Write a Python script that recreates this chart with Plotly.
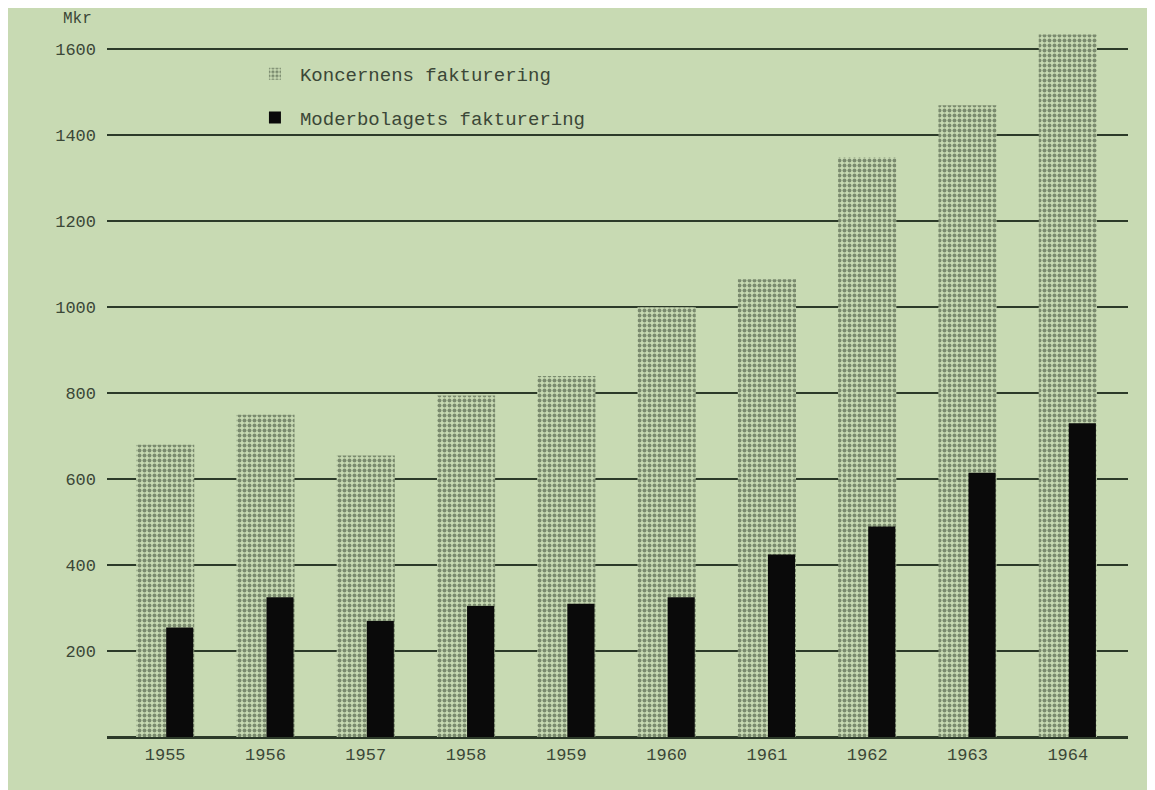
import plotly.graph_objects as go

years = [1955, 1956, 1957, 1958, 1959, 1960, 1961, 1962, 1963, 1964]
koncern = [680, 750, 655, 795, 840, 1000, 1065, 1350, 1470, 1635]
moderbolag = [255, 325, 270, 305, 310, 325, 425, 490, 615, 730]
y_ticks = [200, 400, 600, 800, 1000, 1200, 1400, 1600]

BG = "#c8dab3"
INK = "#2c3a29"
TXT = "#3b4737"
FONT = "Liberation Mono, Courier New, monospace"

fig = go.Figure()
fig.add_trace(go.Bar(
    x=years, y=koncern, name="Koncernens fakturering",
    width=0.58, legendgroup="a",
    marker=dict(color=BG, line=dict(width=0),
                pattern=dict(shape=".", fgcolor=INK, bgcolor=BG, size=5, solidity=0.5)),
))
fig.add_trace(go.Bar(
    x=years, y=moderbolag, name="Moderbolagets fakturering",
    width=0.27, offset=0.01, legendgroup="b",
    marker=dict(color="#0a0a0a", line=dict(width=0)),
))

fig.update_layout(
    width=1147, height=782,
    barmode="overlay",
    paper_bgcolor=BG, plot_bgcolor=BG,
    margin=dict(l=99, r=27, t=20, b=53),
    font=dict(family=FONT, color=TXT, size=17),
    legend=dict(x=0.14, y=0.962, xanchor="left", yanchor="top",
                bgcolor="rgba(0,0,0,0)", font=dict(size=19, color=TXT),
                tracegroupgap=16, itemwidth=40),
    annotations=[dict(text="Mkr", xref="paper", yref="paper", x=-0.013, y=1.012,
                      xanchor="right", yanchor="middle", showarrow=False,
                      font=dict(size=16, color=TXT))],
    xaxis=dict(range=[1955 - 0.58, 1964 + 0.60], tickvals=years,
               ticktext=[str(y) for y in years], showgrid=False, zeroline=False,
               showline=False, ticks="", ticklabelstandoff=5, tickfont=dict(size=17)),
    yaxis=dict(range=[0, 1650], tickvals=y_ticks, showgrid=True, gridcolor=INK,
               gridwidth=2, zeroline=True, zerolinecolor=INK, zerolinewidth=3,
               showline=False, ticks="", ticklabelstandoff=10, tickfont=dict(size=17)),
)

fig.write_html("out.html")
